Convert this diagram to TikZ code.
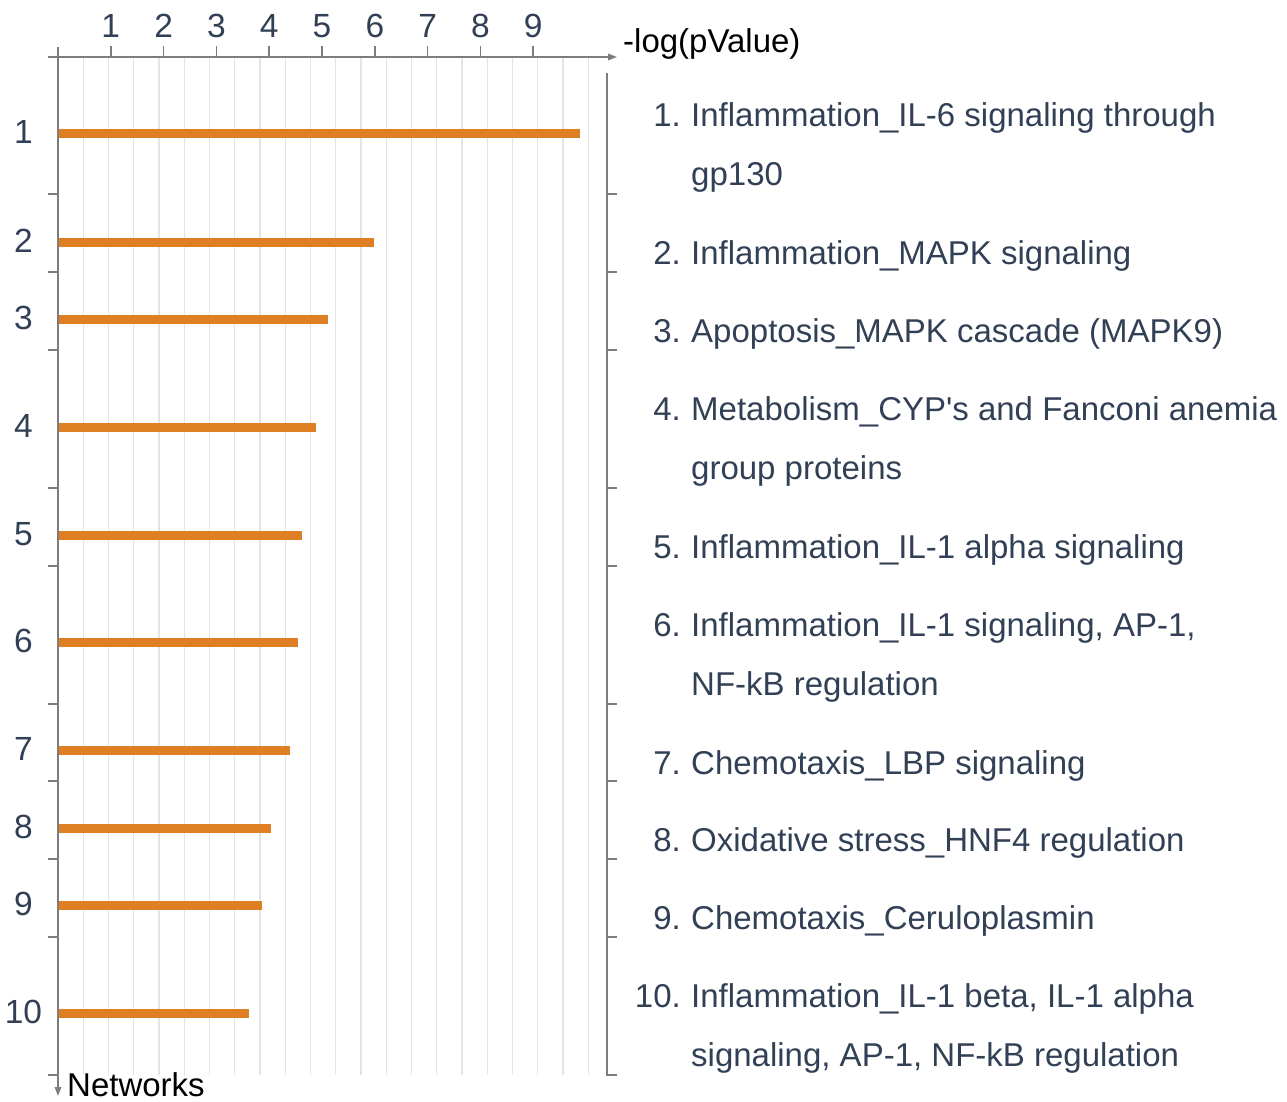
\documentclass[tikz,border=0pt]{standalone}
\usepackage{fontspec}
\setmainfont{Liberation Sans}
\usetikzlibrary{arrows.meta}

\definecolor{labelink}{RGB}{50,64,86}
\definecolor{barfill}{RGB}{222,127,35}
\definecolor{axisgray}{RGB}{125,125,125}
\definecolor{gridgray}{RGB}{228,228,228}

\tikzset{
  gridline/.style={draw=gridgray, line width=1.1pt},
  axisline/.style={draw=axisgray, line width=1.8pt},
  axistick/.style={draw=axisgray, line width=1.6pt},
  axisarrow/.style={axisline, -{Triangle[length=9pt,width=6.5pt]}},
  pbar/.style={draw=barfill, line width=9pt, line cap=butt},
  ticklabel/.style={text=labelink, inner sep=0pt, anchor=base,
    font=\fontsize{33.5}{33.5}\selectfont},
  itemnum/.style={text=labelink, inner sep=0pt, anchor=base east,
    font=\fontsize{33}{33}\selectfont},
  itemtext/.style={text=labelink, inner sep=0pt, anchor=base west,
    font=\fontsize{33}{33}\selectfont},
  axistitle/.style={text=black, inner sep=0pt, anchor=base west,
    font=\fontsize{33}{33}\selectfont},
}

\begin{document}
\begin{tikzpicture}[x=1pt, y=-1pt]
\useasboundingbox (0,0) rectangle (1287,1101);

% vertical grid lines of the plot area
\foreach \k in {1,...,21}
  \draw[gridline] ({58+25.25*\k},57) -- ({58+25.25*\k},1075);

% bars: row / bar position / bar end
\foreach \n/\y/\e in {1/133/580, 2/242/374, 3/319.5/328, 4/427/316,
                      5/535/302, 6/642.5/298, 7/750.7/290, 8/828.3/271,
                      9/905.7/262, 10/1013.3/249} {
  \draw[pbar] (58,\y) -- (\e,\y);
  \node[ticklabel] (row\n) at (23.5,\y+10) {\n};
}

% axes
\coordinate (xstart) at (48,57);
\coordinate (xend) at (617,57);
\coordinate (ystart) at (58,47);
\coordinate (yend) at (58,1096);
\draw[axisarrow] (xstart) -- (xend);
\draw[axisarrow] (ystart) -- (yend);

% top scale ticks and numbers
\foreach \i in {1,...,9} {
  \draw[axistick] ({58+52.81*\i},46) -- ({58+52.81*\i},57);
  \node[ticklabel] (xnum\i) at ({58+52.81*\i},37) {\i};
}

% row separators on the left axis
\foreach \y in {194,272,350,488,566,704,781,859,937,1075}
  \draw[axistick] (48,\y) -- (58,\y);

% right bracket line with row separators
\coordinate (rtop) at (607,73);
\coordinate (rbot) at (607,1075);
\draw[axisline] (rtop) -- (rbot);
\foreach \y in {194,272,350,488,566,704,781,859,937,1075}
  \draw[axistick] (606.2,\y) -- (617,\y);

% axis titles
\node[axistitle] (xtitle) at (623,52) {-log(pValue)};
\node[axistitle] (ytitle) at (67,1096.5) {Networks};

% legend of networks
\node[itemnum] (n1) at (681,126) {1.};
\node[itemtext] (t1) at (691,126) {Inflammation\_IL-6 signaling through};
\node[itemtext] (t1b) at (691,185) {gp130};
\node[itemnum] (n2) at (681,264) {2.};
\node[itemtext] (t2) at (691,264) {Inflammation\_MAPK signaling};
\node[itemnum] (n3) at (681,342) {3.};
\node[itemtext] (t3) at (691,342) {Apoptosis\_MAPK cascade (MAPK9)};
\node[itemnum] (n4) at (681,420) {4.};
\node[itemtext] (t4) at (691,420) {Metabolism\_CYP\textquotesingle s and Fanconi anemia};
\node[itemtext] (t4b) at (691,479) {group proteins};
\node[itemnum] (n5) at (681,558) {5.};
\node[itemtext] (t5) at (691,558) {Inflammation\_IL-1 alpha signaling};
\node[itemnum] (n6) at (681,636) {6.};
\node[itemtext] (t6) at (691,636) {Inflammation\_IL-1 signaling, AP-1,};
\node[itemtext] (t6b) at (691,695) {NF-kB regulation};
\node[itemnum] (n7) at (681,774) {7.};
\node[itemtext] (t7) at (691,774) {Chemotaxis\_LBP signaling};
\node[itemnum] (n8) at (681,851) {8.};
\node[itemtext] (t8) at (691,851) {Oxidative stress\_HNF4 regulation};
\node[itemnum] (n9) at (681,929) {9.};
\node[itemtext] (t9) at (691,929) {Chemotaxis\_Ceruloplasmin};
\node[itemnum] (n10) at (681,1007) {10.};
\node[itemtext] (t10) at (691,1007) {Inflammation\_IL-1 beta, IL-1 alpha};
\node[itemtext] (t10b) at (691,1066) {signaling, AP-1, NF-kB regulation};
\end{tikzpicture}
\end{document}
